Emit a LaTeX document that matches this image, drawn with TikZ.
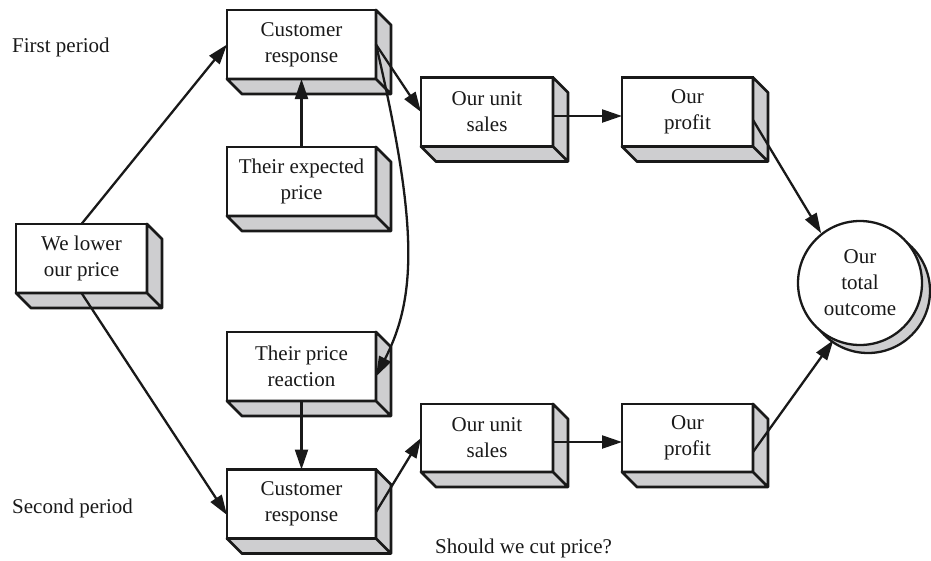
\documentclass[tikz,border=0pt]{standalone}
\usepackage{fontspec}
\setmainfont{Liberation Serif}
\usetikzlibrary{arrows.meta,calc}
\definecolor{boxgray}{RGB}{206,206,208}
\definecolor{ink}{RGB}{25,25,25}
\tikzset{
  box/.style={draw=ink, line width=2.8pt, fill=white, minimum width=149pt, minimum height=69pt,
    align=center, inner sep=0pt, outer sep=0pt, text=ink, font=\fontsize{21}{26}\selectfont},
  face/.style={draw=ink, fill=boxgray, line width=2.8pt, line join=round},
  arr/.style={draw=ink, line width=2.3pt, -{Triangle[length=20pt,width=13pt]}},
  lbl/.style={anchor=west, inner sep=0pt, text=ink, font=\fontsize{21}{26}\selectfont}
}
\begin{document}
\begin{tikzpicture}[x=1pt,y=-1pt]
  \useasboundingbox (0,0) rectangle (931,560);

  \node[box, minimum width=131pt] (lower) at (81.5,258.5) {We lower\\our price};
  \node[box] (cr1) at (301.5,44.5) {Customer\\response};
  \node[box] (exp) at (301.5,181.5) {Their expected\\price};
  \node[box] (pr) at (301.5,366.5) {Their price\\reaction};
  \node[box] (cr2) at (301.5,504) {Customer\\response};
  \node[box, minimum width=132pt] (us1) at (487,112) {Our unit\\sales};
  \node[box, minimum width=131pt] (pf1) at (687.5,112) {Our\\profit};
  \node[box, minimum width=132pt, minimum height=68pt] (us2) at (487,438) {Our unit\\sales};
  \node[box, minimum width=131pt, minimum height=68pt] (pf2) at (687.5,438) {Our\\profit};

  \foreach \n in {lower,cr1,exp,pr,cr2,us1,pf1,us2,pf2}
    \draw[face] (\n.south west) -- ++(15,15) -- ($(\n.south east)+(15,15)$)
      -- ($(\n.north east)+(15,15)$) -- (\n.north east) -- (\n.south east) -- cycle
      (\n.south east) -- ++(15,15);

  \node[circle, face, line width=2.3pt, minimum size=124pt] (totalsh) at (868,291) {};
  \node[circle, draw=ink, line width=2.3pt, fill=white, minimum size=124pt, inner sep=0pt,
    align=center, text=ink, font=\fontsize{21}{26}\selectfont] (total) at (860,283) {Our\\total\\outcome};

  \draw[arr] (lower.north) -- (cr1.west);
  \draw[arr] (lower.south) -- ($(cr2.west)+(0,11)$);
  \draw[arr] (exp.north) -- (cr1.south);
  \draw[arr] (pr.south) -- (cr2.north);
  \draw[arr] (cr1.east) -- (us1.west);
  \draw[arr] (cr1.east) .. controls ($(cr1.east)+(42,180)$) and ($(pr.east)+(41,-70)$) .. ($(pr.east)+(0,10)$);
  \draw[arr] ($(us1.east)+(0,4)$) -- ($(pf1.west)+(0,4)$);
  \draw[arr] ($(pf1.east)+(0,8)$) -- (total.128);
  \draw[arr] ($(cr2.east)+(0,8)$) -- (us2.west);
  \draw[arr] ($(us2.east)+(0,4)$) -- ($(pf2.west)+(0,4)$);
  \draw[arr] ($(pf2.east)+(0,14)$) -- (total.245);

  \node[lbl] (first) at (12,47) {First period};
  \node[lbl] (second) at (12,508) {Second period};
  \node[lbl] (question) at (435,548) {Should we cut price?};
\end{tikzpicture}
\end{document}
